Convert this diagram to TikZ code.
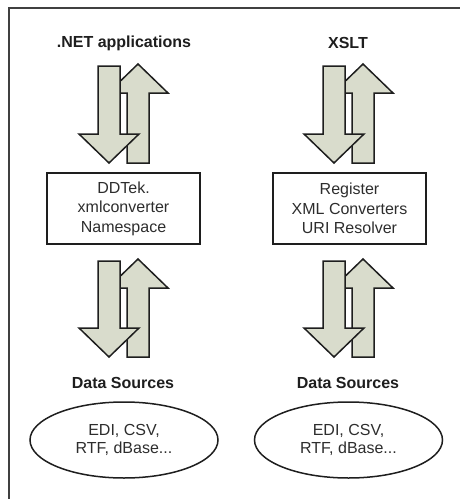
\documentclass[tikz,border=0pt]{standalone}
\usepackage{fontspec}
\setmainfont{Liberation Sans}
\usetikzlibrary{shapes.geometric}
\definecolor{fillsage}{RGB}{217,220,204}
\definecolor{txt}{RGB}{45,45,45}
\definecolor{edge}{RGB}{30,30,30}
\newcommand{\downarrowshape}[3]{% center x, top y, bottom y
  \filldraw[arr] (#1-11,#2) -- (#1+11,#2) -- (#1+11,#3-29) -- (#1+30,#3-29)
    -- (#1,#3) -- (#1-30,#3-29) -- (#1-11,#3-29) -- cycle;}
\newcommand{\uparrowshape}[3]{% center x, top y, bottom y
  \filldraw[arr] (#1-11,#3) -- (#1+11,#3) -- (#1+11,#2+29) -- (#1+30,#2+29)
    -- (#1,#2) -- (#1-30,#2+29) -- (#1-11,#2+29) -- cycle;}
\begin{document}
\begin{tikzpicture}[x=1pt,y=-1pt,
  title/.style={font=\fontsize{16}{19}\selectfont\bfseries, text=edge, inner sep=0pt},
  box/.style={draw=edge, line width=1.5pt, minimum width=153pt, minimum height=71pt,
    align=center, font=\fontsize{16}{19.5}\selectfont, text=txt, inner sep=0pt},
  oval/.style={ellipse, draw=edge, line width=1.5pt, minimum width=188pt, minimum height=76pt,
    align=center, font=\fontsize{16}{18}\selectfont, text=txt, inner sep=0pt},
  arr/.style={fill=fillsage, draw=edge, line width=1.5pt, line join=miter}]
\useasboundingbox (0,0) rectangle (459,499);
\draw[line width=2pt, draw=black!75] (9,520) -- (9,8) -- (480,8);
% left column
\node[title] (t1) at (124,43) {.NET applications};
\node[box] (b1) at (123.5,208.5) {DDTek.\\xmlconverter\\Namespace};
\node[title] (d1) at (123,383) {Data Sources};
\node[oval] (e1) at (124,440) {EDI, CSV,\\RTF, dBase...};
% right column
\node[title] (t2) at (348,43) {XSLT};
\node[box] (b2) at (349.5,208.5) {Register\\XML Converters\\URI Resolver};
\node[title] (d2) at (348,383) {Data Sources};
\node[oval] (e2) at (348.5,440) {EDI, CSV,\\RTF, dBase...};
% arrows
\uparrowshape{138}{64}{163}
\downarrowshape{109}{66}{163}
\uparrowshape{138}{259}{357}
\downarrowshape{109}{261}{357}
\uparrowshape{363}{64}{163}
\downarrowshape{334}{66}{163}
\uparrowshape{363}{259}{357}
\downarrowshape{334}{261}{357}
\end{tikzpicture}
\end{document}
